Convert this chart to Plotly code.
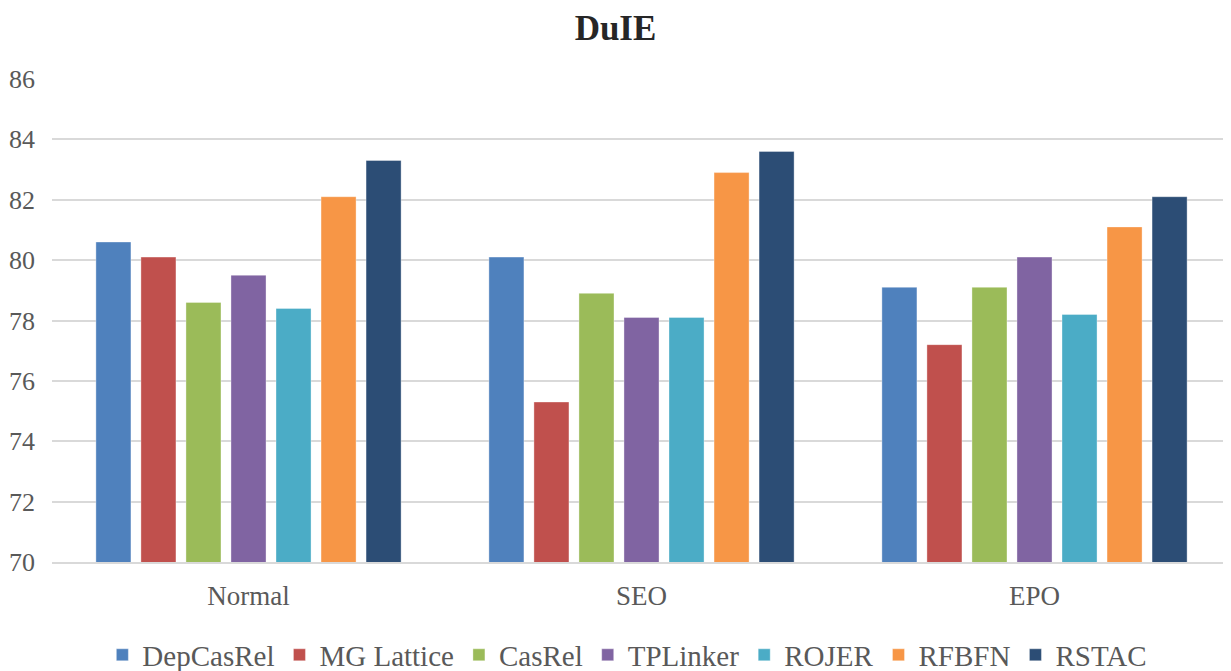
import plotly.graph_objects as go

categories = ["Normal", "SEO", "EPO"]
series_names = ["DepCasRel", "MG Lattice", "CasRel", "TPLinker", "ROJER", "RFBFN", "RSTAC"]
dep_cas_rel = [80.6, 80.1, 79.1]
mg_lattice = [80.1, 75.3, 77.2]
cas_rel = [78.6, 78.9, 79.1]
tp_linker = [79.5, 78.1, 80.1]
rojer = [78.4, 78.1, 78.2]
rfbfn = [82.1, 82.9, 81.1]
rstac = [83.3, 83.6, 82.1]
y_ticks = [70, 72, 74, 76, 78, 80, 82, 84, 86]

values = [dep_cas_rel, mg_lattice, cas_rel, tp_linker, rojer, rfbfn, rstac]
colors = ["#4F81BD", "#C0504D", "#9BBB59", "#8064A2", "#4BACC6", "#F79646", "#2C4D75"]

font = "Liberation Serif, Times New Roman, serif"

fig = go.Figure()
for name, vals, col in zip(series_names, values, colors):
    fig.add_trace(go.Bar(
        name=name, x=categories, y=vals,
        marker=dict(color=col, line=dict(color="rgba(255,255,255,0.35)", width=1)),
    ))

fig.update_layout(
    width=1231, height=679,
    barmode="group", bargap=0.198, bargroupgap=0.222,
    plot_bgcolor="white", paper_bgcolor="white",
    margin=dict(l=44, r=8, t=71, b=124),
    title=dict(text="<b>DuIE</b>", x=0.4935, xanchor="center", y=1, yanchor="top",
               pad=dict(t=7, b=0), font=dict(family=font, size=35, color="#262626")),
    font=dict(family=font, size=26, color="#595959"),
    showlegend=True,
    legend=dict(orientation="h", x=0.488, xanchor="center", y=-0.19, yanchor="middle",
                font=dict(family=font, size=29, color="#595959"),
                itemwidth=30, traceorder="normal"),
)
fig.update_yaxes(range=[70, 86], tickvals=y_ticks, showgrid=True, gridcolor="#D9D9D9",
                 gridwidth=1.5, zeroline=False, showline=False, ticks="", ticklen=0,
                 automargin=False, ticklabelstandoff=16,
                 tickfont=dict(family=font, size=26, color="#595959"))
fig.update_xaxes(showline=True, linecolor="#D9D9D9", linewidth=1.5, ticks="",
                 automargin=False, ticklabelstandoff=9,
                 tickfont=dict(family=font, size=27, color="#595959"))

fig.write_html("out.html")
